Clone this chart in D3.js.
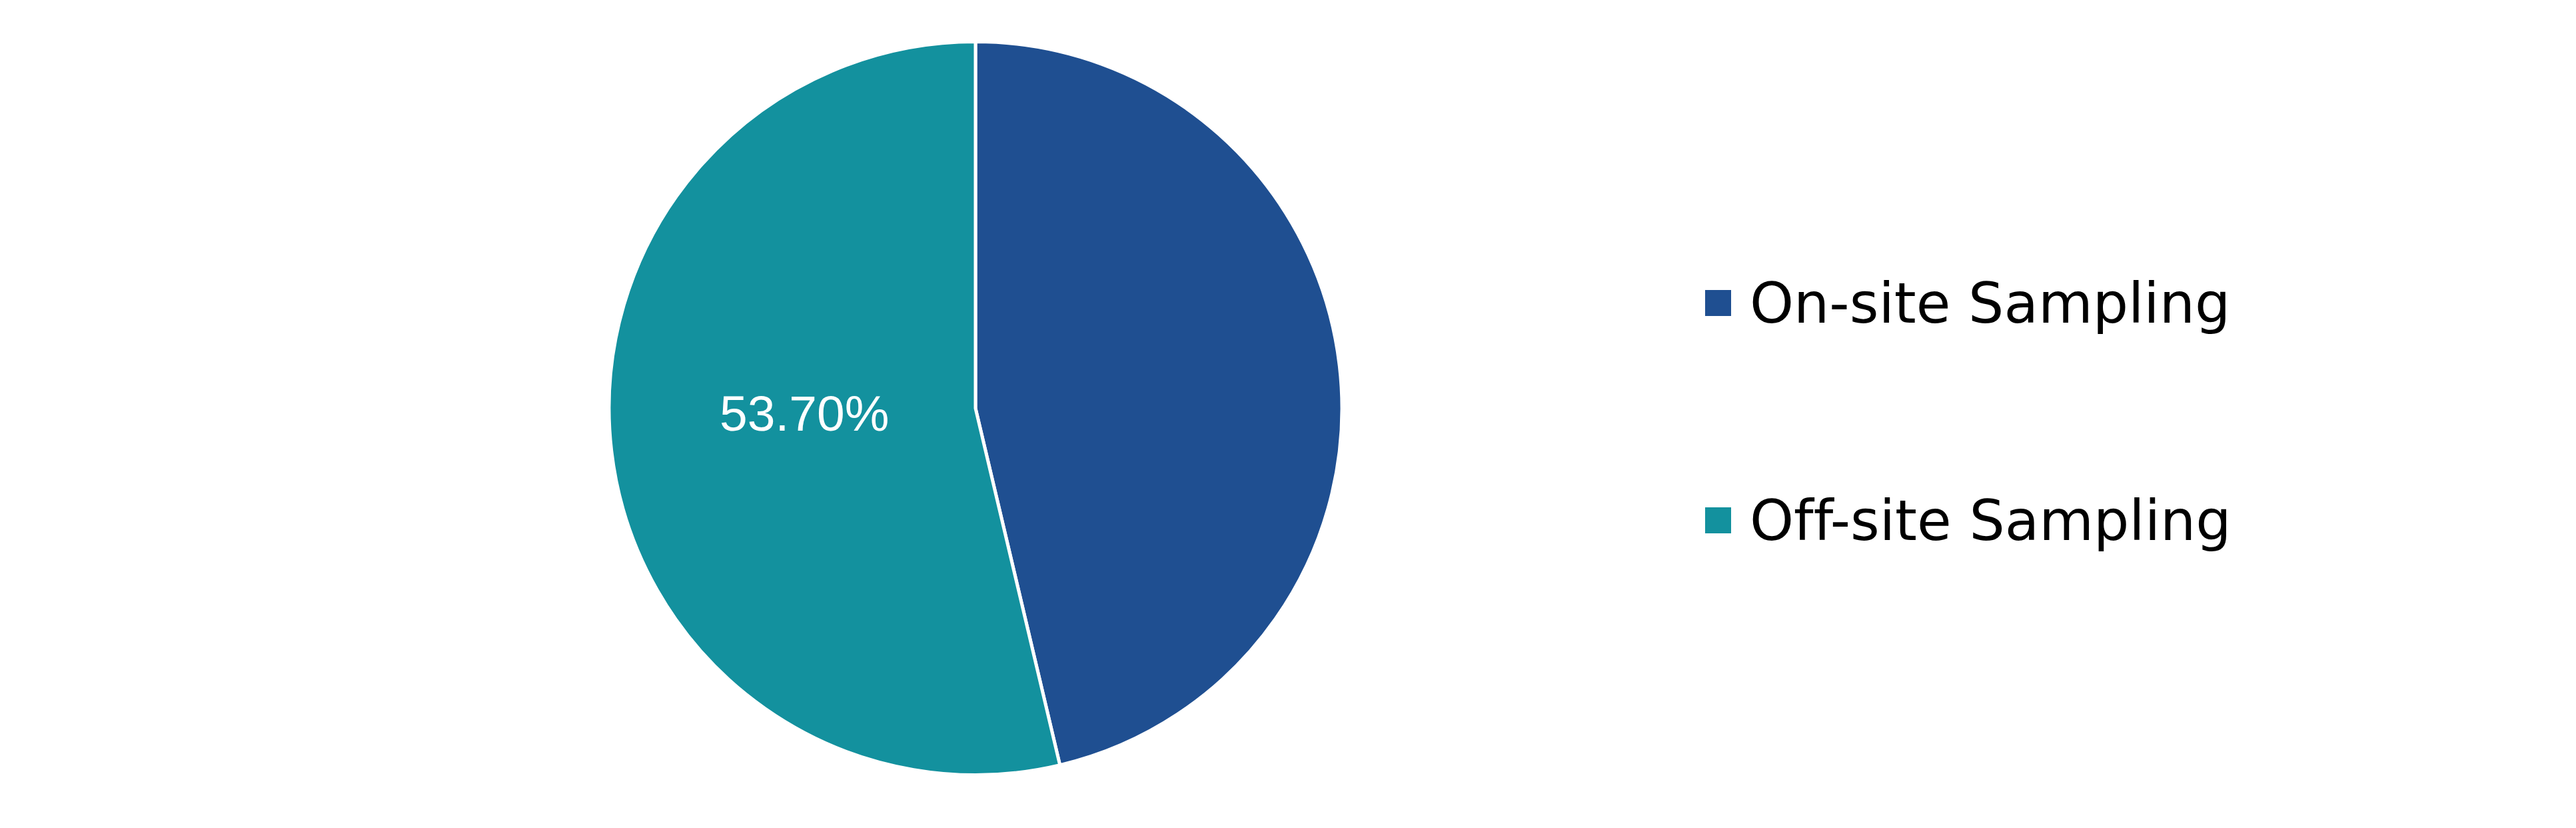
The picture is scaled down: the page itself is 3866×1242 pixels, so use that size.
<!DOCTYPE html>
<html>
<head>
<meta charset="utf-8">
<script src="https://cdn.jsdelivr.net/npm/d3@7"></script>
<style>
  html, body { margin: 0; padding: 0; background: #ffffff; }
  svg { display: block; }
  text { font-variant-ligatures: none; font-feature-settings: "liga" 0, "clig" 0; }
</style>
</head>
<body>
<svg id="chart" width="3866" height="1242"></svg>
<script>
const categories = ["On-site Sampling", "Off-site Sampling"];
const values = [46.30, 53.70];
const labels = ["", "53.70%"];
const colors = ["#1f4f91", "#13919e"];

const W = 3866, H = 1242;
const cx = 1464, cy = 612.5, R = 550;

const svg = d3.select("#chart");
svg.append("rect").attr("width", W).attr("height", H).attr("fill", "#ffffff");

const data = categories.map((c, i) => ({ name: c, value: values[i], label: labels[i], color: colors[i] }));

const pie = d3.pie().value(d => d.value).sort(null);
const arcs = pie(data);
const arc = d3.arc().innerRadius(0).outerRadius(R);
const labelArc = d3.arc().innerRadius(0.94 * R).outerRadius(0);

const g = svg.append("g").attr("transform", `translate(${cx},${cy})`);
g.selectAll("path.slice").data(arcs).join("path")
  .attr("class", "slice")
  .attr("d", arc)
  .attr("fill", d => d.data.color)
  .attr("stroke", "#ffffff")
  .attr("stroke-width", 5)
  .attr("stroke-linejoin", "round");

g.selectAll("text.lbl").data(arcs.filter(d => d.data.label)).join("text")
  .attr("class", "lbl")
  .attr("transform", d => { const c = labelArc.centroid(d); return `translate(${c[0]},${c[1] + 4})`; })
  .attr("text-anchor", "middle")
  .attr("font-family", "'Liberation Sans', Arial, sans-serif")
  .attr("font-size", 75)
  .attr("fill", "#ffffff")
  .text(d => d.data.label);

// Legend
const legendY = d3.scalePoint().domain(categories).range([484, 810]);
const leg = svg.append("g");
const items = leg.selectAll("g.item").data(data).join("g")
  .attr("class", "item")
  .attr("transform", d => `translate(0,${legendY(d.name)})`);
items.append("rect")
  .attr("x", 2559).attr("y", -49)
  .attr("width", 39).attr("height", 39)
  .attr("fill", d => d.color);
items.append("text")
  .attr("x", 2626).attr("y", 0)
  .attr("font-family", "'DejaVu Sans', Verdana, sans-serif")
  .attr("font-size", 84)
  .attr("fill", "#000000")
  .text(d => d.name);
</script>
</body>
</html>
